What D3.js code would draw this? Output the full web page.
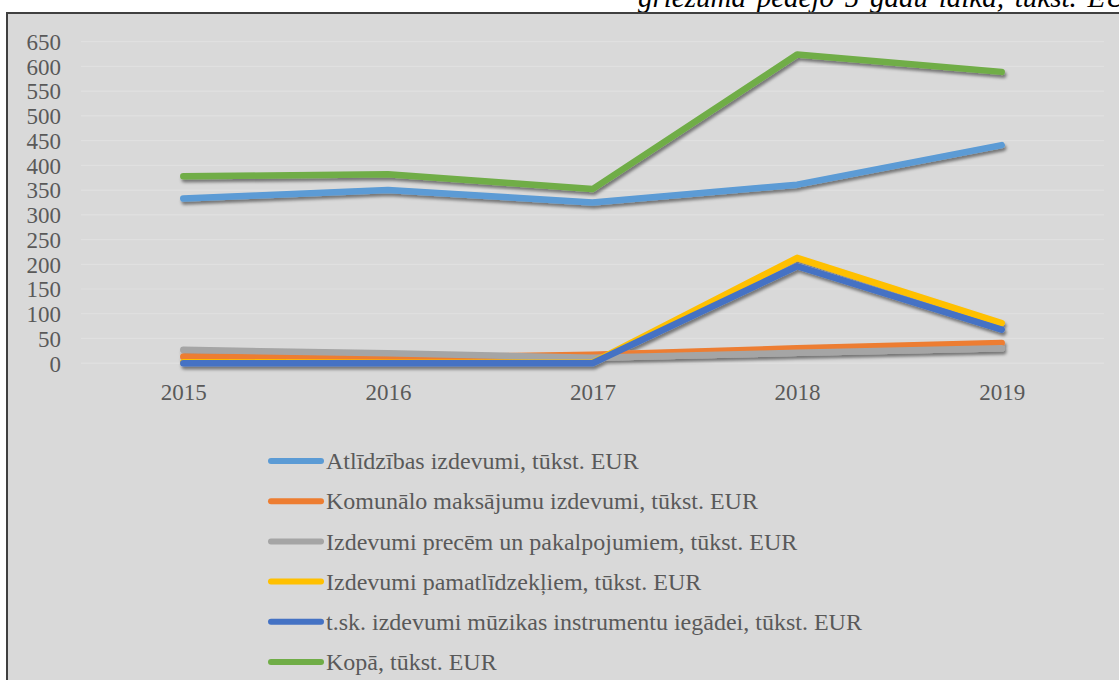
<!DOCTYPE html>
<html>
<head>
<meta charset="UTF-8">
<script src="https://d3js.org/d3.v7.min.js"></script>
<style>
  body { margin: 0; background: #fff; overflow: hidden; }
  svg text { font-family: "Liberation Serif", "Times New Roman", serif; }
</style>
</head>
<body>
<svg id="chart" width="1119" height="680"></svg>
<script>
  // data (tūkst. EUR)
  const years = ['2015', '2016', '2017', '2018', '2019'];
  const atlidzibas = [333, 350, 325, 361, 441];
  const komunalie = [13, 11, 17, 30, 41];
  const preces = [27, 20, 11, 21, 30];
  const pamatlidzekli = [2, 1, 1, 213, 81];
  const muzikas = [0, 0, 0, 196, 68];
  const kopa = [378, 382, 352, 624, 589];
  const yTicks = [0, 50, 100, 150, 200, 250, 300, 350, 400, 450, 500, 550, 600, 650];

  const seriesNames = [
    'Atlīdzības izdevumi, tūkst. EUR',
    'Komunālo maksājumu izdevumi, tūkst. EUR',
    'Izdevumi precēm un pakalpojumiem, tūkst. EUR',
    'Izdevumi pamatlīdzekļiem, tūkst. EUR',
    't.sk. izdevumi mūzikas instrumentu iegādei, tūkst. EUR',
    'Kopā, tūkst. EUR'
  ];
  const seriesValues = [atlidzibas, komunalie, preces, pamatlidzekli, muzikas, kopa];
  const colors = ['#5b9bd5', '#ed7d31', '#a5a5a5', '#ffc000', '#4472c4', '#70ad47'];

  const svg = d3.select('#chart');
  const textColor = '#595959';

  // shadow under the lines
  const defs = svg.append('defs');
  defs.append('filter')
    .attr('id', 'shadow')
    .attr('x', '-5%').attr('y', '-20%').attr('width', '110%').attr('height', '140%')
    .append('feDropShadow')
    .attr('dx', 1.5).attr('dy', 3)
    .attr('stdDeviation', 1.8)
    .attr('flood-color', '#000')
    .attr('flood-opacity', 0.45);

  // caption cut by the top of the page (as in the source document)
  svg.append('text')
    .attr('x', 638)
    .attr('y', 7)
    .attr('font-size', 29)
    .attr('font-style', 'italic')
    .attr('word-spacing', 3.5)
    .attr('fill', '#000')
    .text('griezuma pēdējo 5 gadu laikā, tūkst. EUR');

  // chart frame
  svg.append('rect')
    .attr('x', 7).attr('y', 13)
    .attr('width', 1200).attr('height', 700)
    .attr('fill', '#d9d9d9')
    .attr('stroke', '#404040')
    .attr('stroke-width', 2);

  const plotLeft = 81, plotRight = 1104;
  const x = d3.scalePoint().domain(years).range([plotLeft, plotRight]).padding(0.5);
  const y = d3.scaleLinear().domain([0, 650]).range([363.2, 41.7]);

  // grid
  svg.append('g')
    .selectAll('line')
    .data(yTicks)
    .join('line')
    .attr('x1', plotLeft).attr('x2', plotRight)
    .attr('y1', d => y(d)).attr('y2', d => y(d))
    .attr('stroke', '#e0e0e0')
    .attr('stroke-width', 1.2);

  // y axis labels
  const yAxis = svg.append('g')
    .attr('transform', 'translate(61,0)')
    .call(d3.axisLeft(y).tickValues(yTicks).tickSize(0).tickPadding(0));
  yAxis.attr('font-family', null).attr('font-size', null);
  yAxis.select('.domain').remove();
  yAxis.selectAll('text')
    .style('font-size', '23px')
    .attr('fill', textColor)
    .attr('dy', '0.34em');

  // x axis labels
  const xAxis = svg.append('g')
    .attr('transform', 'translate(0,383)')
    .call(d3.axisBottom(x).tickSize(0).tickPadding(0));
  xAxis.attr('font-family', null).attr('font-size', null);
  xAxis.select('.domain').remove();
  xAxis.selectAll('text')
    .style('font-size', '23px')
    .attr('fill', textColor)
    .attr('dy', '0.74em');

  // lines
  const line = d3.line()
    .x((d, i) => x(years[i]))
    .y(d => y(d));

  svg.append('g')
    .attr('filter', 'url(#shadow)')
    .selectAll('path')
    .data(seriesValues)
    .join('path')
    .attr('d', line)
    .attr('fill', 'none')
    .attr('stroke', (d, i) => colors[i])
    .attr('stroke-width', 6.5)
    .attr('stroke-linecap', 'round')
    .attr('stroke-linejoin', 'round');

  // legend
  const legend = svg.append('g')
    .selectAll('g')
    .data(seriesNames)
    .join('g')
    .attr('transform', (d, i) => `translate(268, ${461 + i * 40.2})`);

  legend.append('line')
    .attr('x1', 3).attr('x2', 53)
    .attr('stroke', (d, i) => colors[i])
    .attr('stroke-width', 6)
    .attr('stroke-linecap', 'round');

  legend.append('text')
    .attr('x', 58)
    .attr('dy', '0.34em')
    .style('font-size', '24px')
    .attr('fill', textColor)
    .text(d => d);
</script>
</body>
</html>
